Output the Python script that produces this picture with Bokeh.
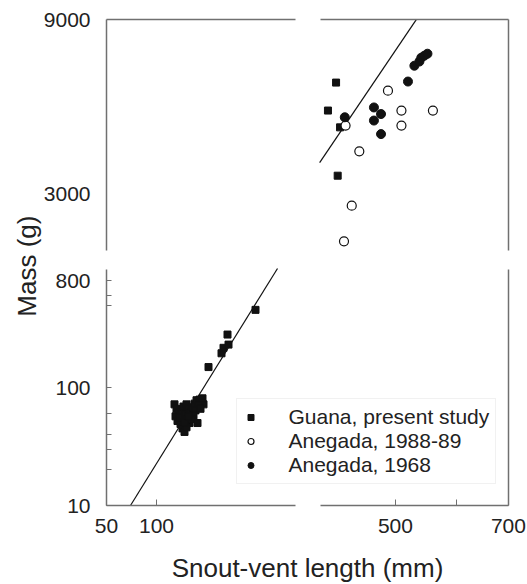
from bokeh.plotting import figure
from bokeh.models import (Range1d, LogScale, LinearAxis, LogAxis, FixedTicker,
                          NumeralTickFormatter, Legend, LegendItem)
from bokeh.embed import file_html
from bokeh.resources import INLINE

# ---------------- data ----------------
# Guana, present study - small animals (lower-left panel)
guana_small_svl = [118, 120, 122, 119, 121, 124, 126, 128, 123, 125, 127, 130, 132,
                   129, 131, 133, 130, 134, 136, 138, 140, 143, 145, 147, 142, 139,
                   137, 135, 141, 144, 128, 132, 146, 152, 165, 167, 172, 171, 199]
guana_small_mass = [72, 66, 61, 57, 52, 49, 45, 42, 56, 64, 69, 72, 66,
                    59, 54, 50, 46, 61, 68, 73, 78, 79, 76, 72, 70, 64,
                    58, 54, 50, 66, 51, 57, 81, 149, 195, 217, 231, 281, 455]
# Guana, present study - adults (upper-right panel)
guana_adult_svl = [419, 409, 424, 421]
guana_adult_mass = [6050, 5070, 4560, 3360]
# Anegada, 1988-89 (open circles)
aneg89_svl = [489, 509, 559, 509, 431, 449, 439, 429]
aneg89_mass = [5750, 5070, 5070, 4610, 4610, 3920, 2780, 2220]
# Anegada, 1968 (filled circles)
aneg68_svl = [430, 469, 479, 469, 479, 519, 529, 537, 540, 545, 550]
aneg68_mass = [4860, 5170, 4960, 4760, 4370, 6090, 6730, 6910, 7080, 7170, 7260]
# regression line, drawn in each panel
fit_low_svl = [74, 221]
fit_low_mass = [10, 1019]
fit_high_svl = [399, 532]
fit_high_mass = [3650, 9000]

# tick values
x_ticks_low = [50, 100]
x_ticks_high = [500, 700]
x_minor_high = [600]
y_ticks_low = [10, 100, 800]
y_minor_low = [20, 30, 40, 60, 500, 600]
y_ticks_high = [3000, 9000]

# panel extents (data units) of the broken frame
low_x = (50, 239)        # lower-left panel, SVL (linear)
high_x = (400, 700)      # upper-right panel, SVL (log)
low_y = (10, 1000)       # lower panel, mass (log)
high_y = (2100, 9000)    # upper panel, mass (log)
X_LEFT, X_RIGHT = 50, 452   # frame edges on the lower-left SVL scale
Y_BOTTOM, Y_TOP = 10, 9000  # frame edges (lower scale / upper scale)

FONT = "Liberation Sans"
AX = "#707070"
TXT = "#222222"
INK = "#111111"

p = figure(width=527, height=584, y_axis_type="log",
           x_range=Range1d(-56, 471), y_range=Range1d(2.141, 190400),
           x_axis_location=None, y_axis_location=None,
           output_backend="svg", toolbar_location=None,
           min_border=0, min_border_left=0, min_border_right=0,
           min_border_top=0, min_border_bottom=0)
p.extra_x_ranges = {"xr": Range1d(154.3, 740.8)}
p.extra_x_scales = {"xr": LogScale()}
p.extra_y_ranges = {"yr": Range1d(254.1, 10160)}
p.extra_y_scales = {"yr": LogScale()}
p.grid.visible = False
p.outline_line_color = None
p.background_fill_color = "white"
p.border_fill_color = "white"

label_style = dict(major_label_text_font=FONT, major_label_text_font_size="21px",
                   major_label_text_color=TXT)
title_style = dict(axis_label_text_font=FONT, axis_label_text_font_size="26px",
                   axis_label_text_font_style="normal", axis_label_text_color=TXT)


def frame_axis(cls, side, bounds, loc, ticks=(), minor=(), tick_len=0, standoff=10,
               line=True, **kw):
    ax = cls(fixed_location=loc, bounds=bounds,
             ticker=FixedTicker(ticks=list(ticks), minor_ticks=list(minor)),
             formatter=NumeralTickFormatter(format="0"),
             axis_line_color=AX if line else None, axis_line_width=1.5,
             major_tick_in=tick_len, major_tick_out=0,
             minor_tick_in=tick_len, minor_tick_out=0,
             major_tick_line_color=AX, minor_tick_line_color=AX,
             major_label_standoff=standoff, **label_style, **kw)
    p.add_layout(ax, side)
    return ax


# bottom: lower-left panel scale and upper-right panel scale
frame_axis(LinearAxis, "below", low_x, Y_BOTTOM, ticks=x_ticks_low, tick_len=6, standoff=13)
frame_axis(LogAxis, "below", high_x, Y_BOTTOM, ticks=x_ticks_high, minor=x_minor_high,
           tick_len=6, standoff=13, x_range_name="xr")
# left: lower panel and upper panel
frame_axis(LogAxis, "left", low_y, X_LEFT, ticks=y_ticks_low, minor=y_minor_low,
           tick_len=5, standoff=16)
frame_axis(LogAxis, "left", high_y, X_LEFT, ticks=y_ticks_high, standoff=16,
           y_range_name="yr")
# top and right frame pieces
frame_axis(LinearAxis, "above", low_x, Y_TOP, y_range_name="yr")
frame_axis(LogAxis, "above", high_x, Y_TOP, x_range_name="xr", y_range_name="yr")
frame_axis(LogAxis, "right", low_y, X_RIGHT)
frame_axis(LogAxis, "right", high_y, X_RIGHT, y_range_name="yr")

# axis titles, centred on the whole frame
frame_axis(LinearAxis, "below", (X_LEFT, X_RIGHT), Y_BOTTOM, line=False,
           axis_label="Snout-vent length (mm)", axis_label_standoff=47, **title_style)
frame_axis(LogAxis, "left", (Y_BOTTOM, 131400), X_LEFT, line=False,
           axis_label="Mass  (g)", axis_label_standoff=65, **title_style)

# ---- regression lines
p.line(fit_low_svl, fit_low_mass, line_color=INK, line_width=1.2)
p.line(fit_high_svl, fit_high_mass, line_color=INK, line_width=1.2,
       x_range_name="xr", y_range_name="yr")

# ---- points
r_sq = p.scatter(guana_small_svl, guana_small_mass, marker="square", size=7,
                 fill_color=INK, line_color=INK)
p.scatter(guana_adult_svl, guana_adult_mass, marker="square", size=7,
          fill_color=INK, line_color=INK, x_range_name="xr", y_range_name="yr")
r_open = p.scatter(aneg89_svl, aneg89_mass, marker="circle", size=9,
                   fill_color="white", line_color=INK, line_width=1.2,
                   x_range_name="xr", y_range_name="yr")
r_fill = p.scatter(aneg68_svl, aneg68_mass, marker="circle", size=9,
                   fill_color=INK, line_color=INK,
                   x_range_name="xr", y_range_name="yr")

legend = Legend(items=[LegendItem(label="Guana, present study", renderers=[r_sq]),
                       LegendItem(label="Anegada, 1988-89", renderers=[r_open]),
                       LegendItem(label="Anegada, 1968", renderers=[r_fill])],
                location=(235.5, 100), padding=6, margin=0, spacing=-3,
                glyph_width=15, glyph_height=20, label_height=20, label_standoff=31,
                label_text_font=FONT, label_text_font_size="21px",
                label_text_color=TXT, background_fill_color="white",
                background_fill_alpha=1.0, border_line_color="#e4e4e4")
p.add_layout(legend)

open("out.html", "w").write(file_html(p, INLINE))
